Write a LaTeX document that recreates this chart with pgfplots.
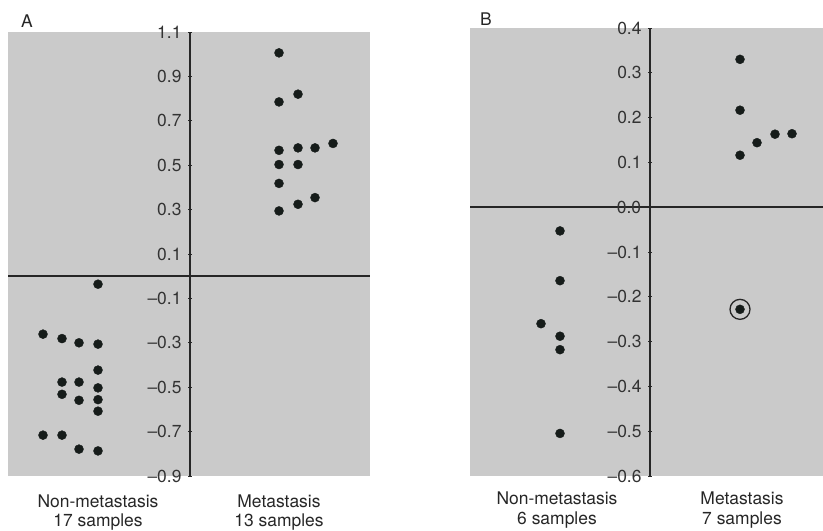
\documentclass[border=0pt]{standalone}
\usepackage{fontspec}
\setmainfont{TeX Gyre Heros}
\usepackage{pgfplots}
\pgfplotsset{compat=1.18}

\definecolor{panel}{RGB}{202,202,202}
\definecolor{dot}{RGB}{22,28,26}

\pgfplotsset{
  dotpanel/.style={
    scale only axis,
    axis lines=middle,
    axis line style={-, line width=1.5bp, black!85},
    axis background/.style={fill=panel},
    xtick=\empty,
    major tick length=4bp,
    tick style={line width=0.9bp, black!85},
    y tick label style={font=\fontsize{17.5}{17.5}\selectfont, text=black!80, anchor=east, xshift=-3bp},
    clip=false,
  },
  dots/.style={only marks, mark=*, mark size=4.5bp, mark options={fill=dot, draw=dot}},
}

\begin{document}
\begin{tikzpicture}
\useasboundingbox (0bp,0bp) rectangle (823bp,531bp);

% ---- panel A ----
\begin{axis}[dotpanel,
  at={(8bp,55bp)}, anchor=south west,
  width=362bp, height=444bp,
  xmin=-182, xmax=180, ymin=-0.9, ymax=1.1,
  ytick={-0.9,-0.7,-0.5,-0.3,-0.1,0.1,0.3,0.5,0.7,0.9,1.1},
  yticklabels={--0.9,--0.7,--0.5,--0.3,--0.1,0.1,0.3,0.5,0.7,0.9,1.1},
]
% non-metastasis, 17 samples
\addplot[dots] coordinates {
  (-147,-0.261) (-147,-0.716)
  (-128,-0.281) (-128,-0.477) (-128,-0.532) (-128,-0.716)
  (-111,-0.300) (-111,-0.477) (-111,-0.559) (-111,-0.779)
  (-92,-0.036) (-92,-0.306) (-92,-0.423) (-92,-0.503) (-92,-0.556) (-92,-0.608) (-92,-0.787)
};
% metastasis, 13 samples
\addplot[dots] coordinates {
  (89,1.006) (89,0.785) (89,0.567) (89,0.503) (89,0.418) (89,0.294)
  (108,0.820) (108,0.578) (108,0.503) (108,0.324)
  (125,0.578) (125,0.354)
  (143,0.598)
};
\end{axis}

% ---- panel B ----
\begin{axis}[dotpanel,
  at={(470bp,55bp)}, anchor=south west,
  width=353bp, height=448bp,
  xmin=-180, xmax=173, ymin=-0.6, ymax=0.4,
  ytick={-0.6,-0.5,-0.4,-0.3,-0.2,-0.1,0,0.1,0.2,0.3,0.4},
  yticklabels={--0.6,--0.5,--0.4,--0.3,--0.2,--0.1,0.0,0.1,0.2,0.3,0.4},
]
% non-metastasis, 6 samples
\addplot[dots] coordinates {
  (-109,-0.260)
  (-90,-0.053) (-90,-0.164) (-90,-0.288) (-90,-0.318) (-90,-0.505)
};
% metastasis, 7 samples
\addplot[dots] coordinates {
  (90,0.330) (90,0.2165) (90,0.116) (90,-0.228)
  (107,0.144) (125,0.163) (142,0.164)
};
% highlighted sample
\addplot[only marks, mark=o, mark size=10bp, mark options={draw=black!85, line width=1.3bp, fill=none}]
  coordinates {(90,-0.228)};
% the origin label is suppressed by axis lines=middle, so set it by hand
\node[anchor=east, xshift=-5.3bp, inner sep=0.333em, font=\fontsize{17.5}{17.5}\selectfont, text=black!80]
  at (axis cs:0,0) {0.0};
\end{axis}

% ---- titles and group labels ----
\begin{scope}[every node/.style={font=\fontsize{17.5}{17.5}\selectfont, text=black!85}]
\node at (27bp,510bp) {A};
\node at (486bp,512bp) {B};
\node at (98bp,30bp) {Non-metastasis};
\node at (98bp,9bp) {17 samples};
\node at (279bp,30bp) {Metastasis};
\node at (279bp,9bp) {13 samples};
\node at (557bp,33bp) {Non-metastasis};
\node at (557bp,11bp) {6 samples};
\node at (742bp,33bp) {Metastasis};
\node at (742bp,11bp) {7 samples};
\end{scope}
\end{tikzpicture}
\end{document}
